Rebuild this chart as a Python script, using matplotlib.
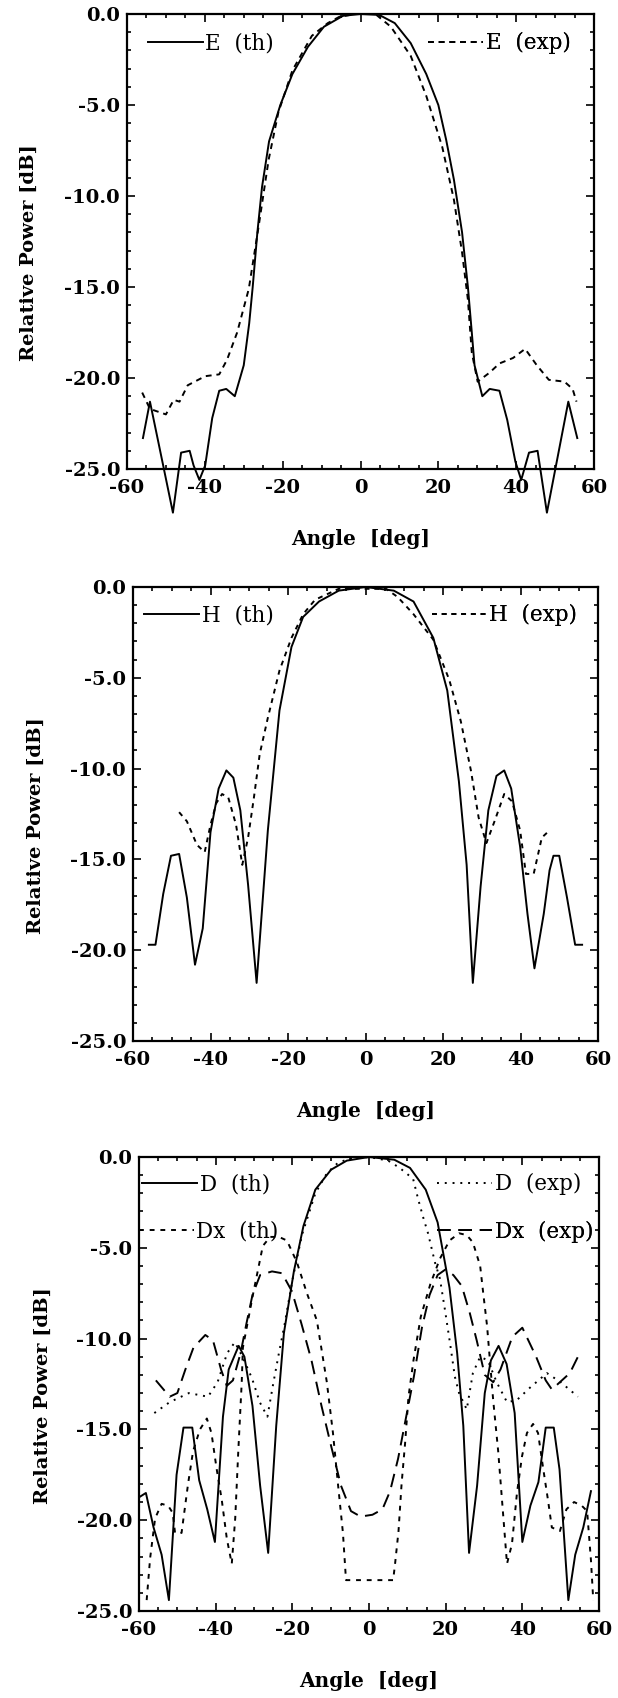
import numpy as np
import matplotlib
matplotlib.use("Agg")
import matplotlib.pyplot as plt
from matplotlib.ticker import MultipleLocator, FormatStrFormatter

plt.rcParams['font.family'] = ['DejaVu Serif']
plt.rcParams['axes.unicode_minus'] = False

# --- panel 1: E plane ---
e_th_x = [-55.9, -54.1, -51.0, -48.2, -46.1, -43.9, -42.9, -41.4, -39.9, -38.1, -36.3, -34.5, -32.3,
          -30.0, -28.6, -27.7, -26.5, -25.3, -23.5, -20.6, -17.5, -13.5, -9.4, -4.5, 0.0,
          4.8, 8.8, 12.9, 16.9, 20.0, 22.0, 24.0, 26.1, 27.6, 28.6, 29.3,
          31.3, 33.2, 35.7, 37.7, 39.8, 41.3, 43.3, 45.5, 47.9, 53.4, 55.7]
e_th_y = [-23.3, -21.3, -24.5, -27.4, -24.1, -24.0, -24.8, -25.6, -24.8, -22.2, -20.7, -20.6, -21.0,
          -19.3, -17.0, -15.0, -12.0, -9.5, -7.0, -5.0, -3.3, -1.8, -0.7, -0.1, 0.0,
          -0.05, -0.5, -1.6, -3.3, -5.0, -6.9, -9.1, -12.0, -15.0, -17.5, -19.3,
          -21.0, -20.6, -20.7, -22.3, -24.6, -25.6, -24.1, -24.0, -27.4, -21.3, -23.3]
e_exp_x = [-56.1, -54.1, -50.0, -48.0, -46.5, -44.4, -39.9, -36.3, -34.3, -31.7, -28.7, -26.2, -23.6,
           -21.1, -17.5, -12.5, -8.4, -5.4, -1.3, 3.8, 7.8, 12.9, 16.9, 21.0, 24.0, 26.1, 27.6,
           28.6, 30.1, 33.2, 35.7, 39.2, 42.3, 45.3, 48.4, 52.4, 54.5, 55.5]
e_exp_y = [-20.8, -21.7, -22.0, -21.2, -21.3, -20.4, -19.9, -19.8, -19.0, -17.5, -15.1, -11.7, -8.0,
           -5.4, -3.1, -1.2, -0.5, -0.15, 0.0, 0.0, -0.7, -2.3, -4.5, -7.3, -10.2, -13.1, -15.7,
           -18.6, -20.2, -19.7, -19.2, -18.9, -18.4, -19.3, -20.1, -20.2, -20.6, -21.3]

# --- panel 2: H plane ---
h_th_x = [-55.9, -54.2, -52.2, -50.2, -48.1, -46.1, -44.0, -42.0, -40.0, -37.9, -35.9, -34.1, -32.3,
          -30.3, -28.1, -25.2, -22.2, -19.1, -16.1, -12.0, -6.9, 0.0, 7.3, 12.4, 17.5, 21.1, 24.1,
          26.1, 27.7, 29.7, 31.7, 33.8, 35.8, 37.6, 39.9, 41.8, 43.6, 46.0, 47.5, 48.5, 50.0, 52.0,
          54.1, 55.9]
h_th_y = [-19.7, -19.7, -16.9, -14.8, -14.7, -17.1, -20.8, -18.8, -13.5, -11.1, -10.1, -10.5, -12.3,
          -16.4, -21.8, -13.4, -6.8, -3.3, -1.65, -0.8, -0.2, 0.0, -0.2, -0.8, -2.8, -5.7, -10.7,
          -15.3, -21.8, -16.5, -12.3, -10.4, -10.1, -11.1, -14.3, -18.0, -21.0, -18.0, -15.6, -14.8,
          -14.8, -17.1, -19.7, -19.7]
h_exp_x = [-48.1, -46.1, -43.5, -41.5, -40.0, -38.5, -37.0, -35.4, -33.4, -31.8, -30.3, -28.8, -27.3,
           -25.2, -22.2, -19.1, -16.1, -13.0, -6.9, 5.3, 8.3, 12.4, 17.5, 21.6, 24.6, 27.2, 29.2,
           31.2, 33.3, 35.8, 37.8, 39.9, 41.4, 43.4, 45.5, 47.0]
h_exp_y = [-12.4, -12.9, -14.2, -14.6, -13.1, -11.9, -11.4, -11.6, -13.1, -15.3, -13.8, -11.6, -9.2,
           -7.2, -4.6, -2.8, -1.5, -0.7, -0.1, -0.1, -0.55, -1.5, -2.9, -5.1, -7.4, -10.1, -12.7,
           -14.1, -12.9, -11.4, -11.8, -13.4, -15.8, -15.8, -13.8, -13.5]

# --- panel 3: diagonal plane, co- and cross-polar ---
d_th_x = [-59.7, -58.2, -56.2, -54.1, -52.2, -50.2, -48.4, -46.1, -44.3, -42.2, -40.2, -38.1, -36.6,
          -34.0, -32.5, -30.4, -28.4, -26.3, -24.2, -22.2, -19.6, -17.1, -14.0, -9.9, -5.8, 0.0,
          6.6, 10.7, 14.8, 17.9, 21.0, 23.0, 24.6, 26.1, 28.2, 30.2, 31.8, 33.8, 35.9, 38.0, 40.0,
          42.1, 44.2, 46.1, 48.2, 49.7, 52.0, 53.8, 55.9, 57.9]
d_th_y = [-18.7, -18.5, -20.4, -21.9, -24.4, -17.5, -14.9, -14.9, -17.8, -19.4, -21.2, -14.3, -11.7,
          -10.4, -11.0, -13.7, -18.1, -21.8, -14.8, -9.7, -6.3, -3.8, -1.8, -0.7, -0.2, 0.0,
          -0.15, -0.6, -1.8, -3.6, -7.2, -10.8, -14.8, -21.8, -18.1, -13.0, -11.2, -10.4, -11.4,
          -14.1, -21.2, -19.2, -17.9, -14.9, -14.9, -17.2, -24.4, -21.9, -20.4, -18.4]
d_exp_x = [-56.0, -52.0, -47.0, -42.0, -39.5, -37.0, -35.0, -33.0, -30.5, -28.5, -26.5, -25.0, -23.5,
           -22.0, -20.0, -17.5, -14.0, -11.0, -8.0, -5.0, 0.0, 5.0, 8.0, 11.5, 12.8, 14.1, 15.4,
           17.2, 18.5, 19.8, 21.1, 22.4, 23.5, 25.5, 27.1, 29.0, 31.0, 33.3, 36.0, 38.5, 42.0,
           46.4, 50.0, 54.5]
d_exp_y = [-14.1, -13.5, -13.0, -13.2, -12.4, -10.8, -10.2, -11.0, -12.2, -13.5, -14.3, -12.5, -10.8,
           -9.2, -6.8, -4.3, -2.0, -0.9, -0.3, -0.1, 0.0, -0.2, -0.6, -1.2, -2.3, -3.3, -4.2,
           -5.8, -6.7, -8.4, -10.2, -12.1, -13.0, -13.9, -11.9, -11.0, -11.2, -12.4, -13.5, -13.4,
           -12.7, -11.9, -12.4, -13.2]
dx_th_x = [-58.0, -57.1, -55.8, -54.1, -52.4, -51.2, -50.6, -48.9, -47.2, -45.9, -44.1, -42.3, -41.1,
           -39.8, -38.4, -37.1, -35.8, -34.9, -34.1, -33.2, -32.9, -30.2, -27.7, -25.8, -23.5, -21.4,
           -18.8, -16.2, -13.6, -11.0, -9.4, -8.1, -6.8, -6.0, 6.3, 6.8, 7.7, 8.5, 9.4, 10.3, 11.6,
           13.5, 16.0, 18.5, 21.0, 23.5, 25.5, 27.1, 29.0, 29.8, 30.8, 32.4, 33.7, 34.7, 36.0,
           37.3, 38.6, 39.9, 41.2, 42.8, 44.1, 45.4, 46.7, 47.7, 49.8, 51.5, 53.5, 55.5, 56.9,
           57.9, 58.5]
dx_th_y = [-24.4, -22.1, -19.9, -19.1, -19.2, -19.6, -20.7, -20.7, -18.0, -16.2, -15.0, -14.4, -15.2,
           -17.1, -18.9, -21.0, -22.4, -19.9, -16.2, -12.4, -10.5, -7.5, -4.9, -4.4, -4.4, -4.6,
           -5.8, -7.5, -9.0, -12.4, -15.2, -18.0, -20.7, -23.3, -23.3, -22.4, -20.6, -18.0, -15.8,
           -13.2, -11.2, -8.8, -7.0, -5.6, -4.6, -4.2, -4.3, -4.7, -6.0, -7.5, -9.3, -13.4, -16.2,
           -18.9, -22.4, -21.3, -18.5, -16.5, -15.2, -14.7, -15.2, -17.1, -18.9, -20.4, -20.6,
           -19.4, -19.0, -19.2, -19.5, -22.2, -24.4]
dx_exp_x = [-55.6, -52.0, -50.0, -47.9, -45.8, -42.7, -40.7, -38.6, -37.1, -35.5, -33.5, -32.0, -30.4,
            -28.4, -25.3, -22.7, -20.1, -17.6, -15.0, -12.4, -9.9, -7.3, -4.7, -2.2, 0.9, 3.5, 5.5,
            7.6, 9.7, 11.7, 13.8, 15.8, 17.9, 19.9, 22.0, 24.2, 26.3, 28.1, 30.2, 32.4, 34.3, 37.4,
            40.0, 43.6, 46.1, 47.7, 49.8, 52.4, 54.5]
dx_exp_y = [-12.3, -13.2, -13.0, -11.7, -10.5, -9.8, -10.1, -11.7, -12.6, -12.3, -10.8, -9.2, -7.6,
            -6.5, -6.3, -6.4, -7.4, -9.2, -11.2, -13.7, -15.9, -18.1, -19.5, -19.8, -19.7, -19.4,
            -18.4, -16.6, -14.3, -12.1, -9.4, -7.6, -6.5, -6.2, -6.5, -7.1, -8.6, -10.1, -12.0,
            -12.4, -11.7, -9.9, -9.4, -11.0, -12.3, -12.8, -12.4, -11.9, -11.0]

xticks = [-60, -40, -20, 0, 20, 40, 60]
yticks = [0.0, -5.0, -10.0, -15.0, -20.0, -25.0]

W, H = 618, 1698
fig = plt.figure(figsize=(W / 100, H / 100), dpi=100)

def make_axes(l, t, r, b):
    return fig.add_axes([l / W, (H - b) / H, (r - l) / W, (b - t) / H])

ax1 = make_axes(127, 14, 594, 469)
ax2 = make_axes(133, 587, 598, 1041)
ax3 = make_axes(139, 1157, 599, 1611)

LW = 1.4
solid = '-'
ax1.plot(e_th_x, e_th_y, color='black', lw=LW, ls=solid, clip_on=False)
ax1.plot(e_exp_x, e_exp_y, color='black', lw=LW, ls=(0, (3, 2.5)), clip_on=False)
ax2.plot(h_th_x, h_th_y, color='black', lw=LW, ls=solid, clip_on=False)
ax2.plot(h_exp_x, h_exp_y, color='black', lw=LW, ls=(0, (2.5, 2.5)), clip_on=False)
ax3.plot(d_th_x, d_th_y, color='black', lw=LW, ls=solid, clip_on=False)
ax3.plot(d_exp_x, d_exp_y, color='black', lw=LW, ls=(0, (1, 3)), clip_on=False)
ax3.plot(dx_th_x, dx_th_y, color='black', lw=LW, ls=(0, (2.5, 3)), clip_on=False)
ax3.plot(dx_exp_x, dx_exp_y, color='black', lw=LW, ls=(0, (7, 4)), clip_on=False)


def entry(ax, x, y, label, ls):
    h, = ax.plot([], [], color='black', lw=LW, ls=ls)
    leg = ax.legend([h], [label], loc='center left', bbox_to_anchor=(x, y),
                    frameon=False, handlelength=2.55, handletextpad=0.12,
                    borderpad=0, borderaxespad=0,
                    prop={'family': 'DejaVu Serif', 'size': 15.5, 'weight': 'normal'})
    ax.add_artist(leg)


entry(ax1, 0.045, 0.936, 'E  (th)', solid)
entry(ax1, 0.645, 0.936, 'E  (exp)', (0, (3, 2.5)))
entry(ax2, 0.024, 0.938, 'H  (th)', solid)
entry(ax2, 0.643, 0.938, 'H  (exp)', (0, (2.5, 2.5)))
entry(ax3, 0.007, 0.940, 'D  (th)', solid)
entry(ax3, 0.648, 0.940, 'D  (exp)', (0, (1, 3)))
entry(ax3, 0.000, 0.835, 'Dx  (th)', (0, (2.5, 3)))
entry(ax3, 0.648, 0.835, 'Dx  (exp)', (0, (7, 4)))

for ax in (ax1, ax2, ax3):
    ax.set_xlim(-60, 60)
    ax.set_ylim(-25, 0)
    ax.set_xticks(xticks)
    ax.set_yticks(yticks)
    ax.xaxis.set_minor_locator(MultipleLocator(5))
    ax.yaxis.set_minor_locator(MultipleLocator(1))
    ax.yaxis.set_major_formatter(FormatStrFormatter('%.1f'))
    ax.tick_params(which='both', direction='in', top=True, right=True, width=1.2)
    ax.tick_params(which='major', length=6, labelsize=14, pad=5)
    ax.tick_params(axis='x', which='major', pad=7)
    ax.tick_params(which='minor', length=3)
    for lab in ax.get_xticklabels() + ax.get_yticklabels():
        lab.set_fontweight('bold')
    for sp in ax.spines.values():
        sp.set_linewidth(1.6)
    ax.set_xlabel('Angle  [deg]', fontsize=14.5, fontweight='bold')
    ax.set_ylabel('Relative Power [dB]', fontsize=14, fontweight='bold')
    ax.xaxis.set_label_coords(0.5, -0.132)
    ax.yaxis.set_label_coords(-0.19, 0.475)

fig.savefig('out.png', dpi=100)
